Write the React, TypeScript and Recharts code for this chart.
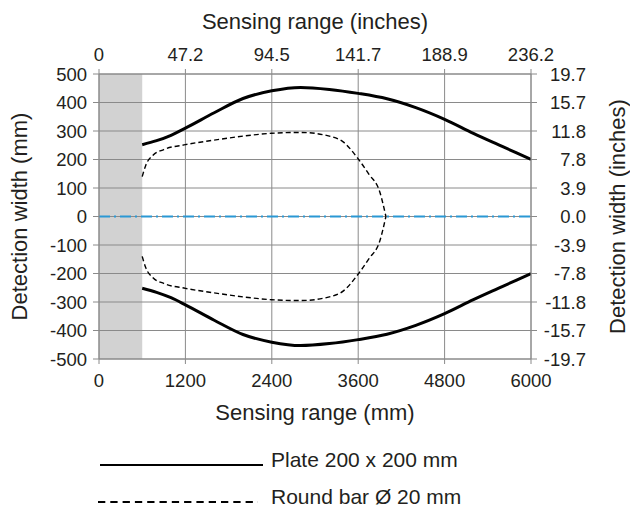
import React from 'react';
import { LineChart, Line, XAxis, YAxis, CartesianGrid, ReferenceArea, ReferenceLine } from 'recharts';

// Axis ticks & labels
const mmTicks = [0, 1200, 2400, 3600, 4800, 6000];
const inchTickLabels = ['0', '47.2', '94.5', '141.7', '188.9', '236.2'];
const widthTicks = [-500, -400, -300, -200, -100, 0, 100, 200, 300, 400, 500];
const widthInchLabels = ['-19.7', '-15.7', '-11.8', '-7.8', '-3.9', '0.0', '3.9', '7.8', '11.8', '15.7', '19.7'];
const blindZone = [0, 600];

// Plate 200 x 200 mm
const plateRange = [600, 800, 1000, 1200, 1600, 2000, 2400, 2800, 3200, 3600, 4000, 4400, 4800, 5200, 5600, 6000];
const plateUpper = [252, 266, 285, 310, 364, 414, 441, 453, 446, 432, 413, 382, 341, 292, 246, 200];
const plateLower = [-252, -266, -285, -310, -364, -414, -441, -453, -446, -432, -413, -382, -341, -292, -246, -200];

// Round bar Ø 20 mm
const barRange = [600, 650, 750, 900, 1200, 1600, 2000, 2400, 2800, 3200, 3400, 3600, 3750, 3900, 3985];
const barUpper = [140, 180, 215, 235, 252, 268, 282, 292, 295, 282, 260, 202, 148, 86, 0];
const barLower = [-140, -180, -215, -235, -252, -268, -282, -292, -295, -282, -260, -202, -148, -86, 0];

const legendLabels = ['Plate 200 x 200 mm', 'Round bar Ø 20 mm'];

const toData = (xs: number[], ys: number[]) => xs.map((x, i) => ({ x, y: ys[i] }));

const plateUpperData = toData(plateRange, plateUpper);
const plateLowerData = toData(plateRange, plateLower);
const barUpperData = toData(barRange, barUpper);
const barLowerData = toData(barRange, barLower);

const GRID = '#8a8a8a';
const TEXT = '#231f20';
const FONT = 'Liberation Sans, Arial, sans-serif';
const TICK_FONT = { fontFamily: FONT, fontSize: 18.5, fill: TEXT };
const TITLE_STYLE = { fontFamily: FONT, fontSize: 22, fill: TEXT };

const RightTick = (props: any) => {
  const { x, y, payload } = props;
  const idx = widthTicks.indexOf(payload.value);
  return (
    <text x={x + 45} y={y} dy="0.355em" textAnchor="end" {...TICK_FONT}>
      {widthInchLabels[idx]}
    </text>
  );
};

export default function App() {
  return (
    <div style={{ position: 'absolute', left: 0, top: 0, width: 630, height: 506, background: '#fff' }}>
      <LineChart width={630} height={506} margin={{ top: 0, right: 0, bottom: 0, left: 0 }}>
        <CartesianGrid xAxisId="mm" yAxisId="left" stroke={GRID} strokeWidth={1} />
        <XAxis
          xAxisId="mm"
          dataKey="x"
          type="number"
          domain={[0, 6000]}
          ticks={mmTicks}
          interval={0}
          allowDataOverflow
          height={147}
          tickSize={5}
          tickMargin={10}
          stroke={GRID}
          tick={TICK_FONT}
          label={{ value: 'Sensing range (mm)', position: 'insideTop', offset: 45, style: TITLE_STYLE }}
        />
        <XAxis
          xAxisId="top"
          orientation="top"
          dataKey="x"
          type="number"
          domain={[0, 6000]}
          ticks={mmTicks}
          interval={0}
          allowDataOverflow
          height={74}
          tickSize={5}
          tickMargin={8}
          stroke={GRID}
          tick={TICK_FONT}
          tickFormatter={(v: number) => inchTickLabels[mmTicks.indexOf(v)]}
          label={{ value: 'Sensing range (inches)', position: 'insideTop', offset: 13.5, style: TITLE_STYLE }}
        />
        <YAxis
          yAxisId="left"
          type="number"
          domain={[-500, 500]}
          ticks={widthTicks}
          interval={0}
          allowDataOverflow
          width={99}
          tickSize={6}
          tickMargin={6}
          stroke={GRID}
          tick={TICK_FONT}
          label={{ value: 'Detection width (mm)', angle: -90, position: 'insideLeft', offset: 19.5, style: { ...TITLE_STYLE, textAnchor: 'middle' } }}
        />
        <YAxis
          yAxisId="right"
          orientation="right"
          type="number"
          domain={[-500, 500]}
          ticks={widthTicks}
          interval={0}
          allowDataOverflow
          width={99}
          tickSize={6}
          tickMargin={4}
          stroke={GRID}
          tick={<RightTick />}
          label={{ value: 'Detection width (inches)', angle: -90, position: 'insideRight', offset: 12.5, style: { ...TITLE_STYLE, textAnchor: 'middle' } }}
        />
        <ReferenceArea
          xAxisId="mm"
          yAxisId="left"
          x1={blindZone[0]}
          x2={blindZone[1]}
          y1={-500}
          y2={500}
          fill={GRID}
          fillOpacity={0.39}
          stroke="none"
        />
        <ReferenceLine
          xAxisId="mm"
          yAxisId="left"
          y={0}
          stroke="#2a98d4"
          strokeWidth={1.8}
          strokeDasharray="11 4 2 4"
        />
        <Line xAxisId="mm" yAxisId="left" data={plateUpperData} dataKey="y" type="monotone" stroke="#000" strokeWidth={3} dot={false} isAnimationActive={false} />
        <Line xAxisId="mm" yAxisId="left" data={plateLowerData} dataKey="y" type="monotone" stroke="#000" strokeWidth={3} dot={false} isAnimationActive={false} />
        <Line xAxisId="mm" yAxisId="left" data={barUpperData} dataKey="y" type="monotone" stroke="#000" strokeWidth={1.4} strokeDasharray="5 3" dot={false} isAnimationActive={false} />
        <Line xAxisId="mm" yAxisId="left" data={barLowerData} dataKey="y" type="monotone" stroke="#000" strokeWidth={1.4} strokeDasharray="5 3" dot={false} isAnimationActive={false} />
      </LineChart>
      <svg width={630} height={66} style={{ position: 'absolute', left: 0, top: 440, display: 'block' }}>
        <line x1={100} x2={263} y1={25} y2={25} stroke="#000" strokeWidth={2.2} />
        <text x={271} y={27} fontFamily={FONT} fontSize={21} fill={TEXT}>{legendLabels[0]}</text>
        <line x1={98} x2={258} y1={62} y2={62} stroke="#000" strokeWidth={2.2} strokeDasharray="7.3 5" />
        <text x={271} y={63.5} fontFamily={FONT} fontSize={21} fill={TEXT}>{legendLabels[1]}</text>
      </svg>
    </div>
  );
}
